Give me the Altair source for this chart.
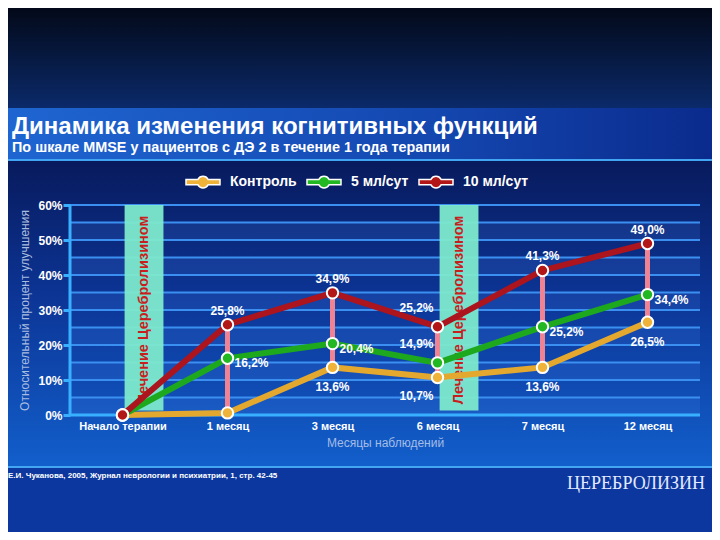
import altair as alt
import pandas as pd

# ---------------- data ----------------
months = ["Начало терапии", "1 месяц", "3 месяц", "6 месяц", "7 месяц", "12 месяц"]
series_names = ["Контроль", "5 мл/сут", "10 мл/сут"]
control = [0.0, 0.6, 13.6, 10.7, 13.6, 26.5]
dose5 = [0.0, 16.2, 20.4, 14.9, 25.2, 34.4]
dose10 = [0.0, 25.8, 34.9, 25.2, 41.3, 49.0]
control_label_pos = ["none", "none", "below", "left_below", "below", "below"]
dose5_label_pos = ["none", "right", "right", "left_above", "right", "right"]
dose10_label_pos = ["none", "above", "above", "left_above", "above", "above"]

band_start = [0.02, 3.02]
band_end = [0.39, 3.39]
band_text = "Лечение Церебролизином"

grid_values = [5, 10, 15, 20, 25, 30, 35, 40, 45, 50, 55, 60]
stripe_lo = [0, 10, 20, 30, 40, 50]
stripe_hi = [5, 15, 25, 35, 45, 55]

title_text = "Динамика изменения когнитивных функций"
subtitle_text = "По шкале MMSE у пациентов с ДЭ 2 в течение 1 года терапии"
x_title = "Месяцы наблюдений"
y_title = "Относительный процент улучшения"
citation_text = "Е.И. Чуканова, 2005, Журнал неврологии и психиатрии, 1, стр. 42-45"
brand_text = "ЦЕРЕБРОЛИЗИН"

# ---------------- styles ----------------
line_colors = ["#e5a82e", "#1ea81e", "#ac141e"]
point_colors = ["#f0b33a", "#22b822", "#b31616"]
FONT = "Liberation Sans"

rows = []
for s, vals, pos in zip(series_names, [control, dose5, dose10],
                        [control_label_pos, dose5_label_pos, dose10_label_pos]):
    for i, (v, p) in enumerate(zip(vals, pos)):
        rows.append(dict(idx=i, month=months[i], series=s, value=v, pos=p,
                         label=f"{v:.1f}".replace(".", ",") + "%"))
df = pd.DataFrame(rows)
conn_df = pd.DataFrame(dict(idx=list(range(1, 6)), lo=control[1:], hi=dose10[1:]))
band_df = pd.DataFrame(dict(start=band_start, end=band_end,
                            mid=[(a + b) / 2 for a, b in zip(band_start, band_end)],
                            text=[band_text] * len(band_start)))
grid_df = pd.DataFrame(dict(g=grid_values))
stripe_df = pd.DataFrame(dict(lo=stripe_lo, hi=stripe_hi))

xscale = alt.Scale(domain=[-0.5, 5.5], nice=False, zero=False)
yscale = alt.Scale(domain=[0, 60], nice=False, zero=False)

label_array = "[" + ",".join("'" + m + "'" for m in months) + "]"
x_axis = alt.Axis(values=list(range(len(months))), labelExpr=label_array + "[datum.value]",
                  ticks=False, grid=False, domain=False, labelFlush=False,
                  labelColor="white", labelFont=FONT, labelFontWeight="bold", labelFontSize=11,
                  labelPadding=5, title=x_title, titleColor="#a3bce6", titleFont=FONT,
                  titleFontWeight="normal", titleFontSize=12, titlePadding=6, zindex=1)
y_axis = alt.Axis(values=[0, 10, 20, 30, 40, 50, 60], labelExpr="datum.value + '%'",
                  grid=False, domain=False, tickColor="#38b0ff", tickWidth=3, tickSize=7,
                  labelColor="white", labelFont=FONT, labelFontWeight="bold", labelFontSize=12,
                  labelPadding=1, title=y_title, titleColor="#a8bce0", titleFont=FONT,
                  titleFontWeight="normal", titleFontSize=12, titlePadding=6, zindex=1)


def X(field):
    return alt.X(field, type="quantitative", scale=xscale, axis=x_axis)


def Y(field):
    return alt.Y(field, type="quantitative", scale=yscale, axis=y_axis)


def XD(v):
    return alt.XDatum(v, type="quantitative", scale=xscale, axis=x_axis)


def YD(v):
    return alt.YDatum(v, type="quantitative", scale=yscale, axis=y_axis)


one = alt.Data(values=[{}])


def grad_v(stops):
    return alt.LinearGradient(gradient="linear", x1=0, x2=0, y1=0, y2=1,
                              stops=[alt.GradientStop(color=c, offset=o) for o, c in stops])


def grad_h(stops):
    return alt.LinearGradient(gradient="linear", x1=0, x2=1, y1=0, y2=0,
                              stops=[alt.GradientStop(color=c, offset=o) for o, c in stops])


bg_top = alt.Chart(one).mark_rect(fill=grad_v([(0, "#020612"), (1, "#0b2a6a")])).encode(
    x=alt.value(-70), x2=alt.value(650), y=alt.value(-205), y2=alt.value(-97))
title_band = alt.Chart(one).mark_rect(
    fill=grad_h([(0, "#1f66d2"), (0.6, "#1447b0"), (1, "#0a2a8c")])).encode(
    x=alt.value(-70), x2=alt.value(650), y=alt.value(-97), y2=alt.value(-46))
panel = alt.Chart(one).mark_rect(
    fill=grad_v([(0, "#081a5c"), (0.45, "#0c3596"), (1, "#125fcc")]),
    stroke="#42a6f2", strokeWidth=2).encode(
    x=alt.value(-69), x2=alt.value(648), y=alt.value(-45), y2=alt.value(262))

stripes = alt.Chart(stripe_df).mark_rect(color="#4a86f0", opacity=0.16).encode(
    x=XD(-0.5), x2=alt.datum(5.5), y=Y("lo"), y2="hi:Q")

gridlines = alt.Chart(grid_df).mark_rule(color="#3b8ff0", strokeWidth=2).encode(
    x=XD(-0.5), x2=alt.datum(5.5), y=Y("g"))

bands = alt.Chart(band_df).mark_rect(color="#7de9cc", opacity=0.95).encode(
    x=X("start"), x2="end:Q", y=YD(1.3), y2=alt.datum(60))
band_labels = alt.Chart(band_df).mark_text(
    angle=270, color="#c81e1e", font=FONT, fontWeight="bold", fontSize=14.5,
    align="center", baseline="middle").encode(x=X("mid"), y=YD(30), text="text:N")

x_domain = alt.Chart(one).mark_rule(color="#38b0ff", strokeWidth=3).encode(
    x=XD(-0.5), x2=alt.datum(5.5), y=YD(0))
y_domain = alt.Chart(one).mark_rule(color="#38b0ff", strokeWidth=3).encode(
    x=XD(-0.5), y=YD(0), y2=alt.datum(60))

connectors = alt.Chart(conn_df).mark_rule(color="#f08393", strokeWidth=5).encode(
    x=X("idx"), y=Y("lo"), y2="hi:Q")

line_layers = []
for s, c in zip(series_names, line_colors):
    line_layers.append(
        alt.Chart(df).transform_filter(alt.datum.series == s)
        .mark_line(strokeWidth=6, color=c)
        .encode(x=X("idx"), y=Y("value"), order="idx:Q"))

# legend symbol: outline of a short bar with a disc in its middle
legend_symbol = ("M-1,-0.16 L-0.3,-0.16 A0.34,0.34 0 0,1 0.3,-0.16 L1,-0.16 L1,0.16 "
                 "L0.3,0.16 A0.34,0.34 0 0,1 -0.3,0.16 L-1,0.16 Z")
series_legend = alt.Legend(
    title=None, orient="none", legendX=115, legendY=-41, direction="horizontal",
    symbolType=legend_symbol, symbolSize=1156, symbolStrokeWidth=1.5,
    symbolStrokeColor="white", symbolOpacity=1,
    labelFont=FONT, labelFontWeight="bold", labelFontSize=14, labelOffset=9,
    labelColor="white", columnPadding=7)

points = alt.Chart(df).mark_circle(size=130, stroke="white", strokeWidth=2, opacity=1).encode(
    x=X("idx"), y=Y("value"),
    fill=alt.Fill("series:N", scale=alt.Scale(domain=series_names, range=point_colors),
                  legend=series_legend))

label_specs = {
    "above": dict(align="center", dx=0, dy=-14),
    "below": dict(align="center", dx=0, dy=20),
    "right": dict(align="left", dx=7, dy=5),
    "left_above": dict(align="right", dx=-4, dy=-19),
    "left_below": dict(align="right", dx=-4, dy=18),
}
label_layers = []
for key, st in label_specs.items():
    label_layers.append(
        alt.Chart(df).transform_filter(alt.datum.pos == key).mark_text(
            color="white", font=FONT, fontWeight="bold", fontSize=12, baseline="middle", **st).encode(
            x=X("idx"), y=Y("value"), text="label:N"))

citation = alt.Chart(alt.Data(values=[{"t": citation_text}])).mark_text(
    color="white", font=FONT, fontWeight="bold", fontSize=8, align="left",
    baseline="middle").encode(x=alt.value(-62), y=alt.value(271), text="t:N")
brand = alt.Chart(alt.Data(values=[{"t": brand_text}])).mark_text(
    color="#e4eaff", font="Liberation Serif", fontSize=18, align="right",
    baseline="alphabetic").encode(x=alt.value(635), y=alt.value(284), text="t:N")

chart = alt.layer(
    bg_top, title_band, panel, stripes, gridlines, bands, band_labels,
    x_domain, y_domain, connectors, *line_layers, points, *label_layers, citation, brand
).properties(
    width=630, height=210,
    autosize=alt.AutoSizeParams(type="none"),
    padding={"left": 62, "top": 197, "right": 12, "bottom": 117},
    title=alt.TitleParams(
        text=title_text, subtitle=subtitle_text, anchor="start", frame="group",
        dx=-58, offset=-154, font=FONT, fontSize=24, fontWeight="bold", color="white",
        subtitleFont=FONT, subtitleFontSize=14.4, subtitleFontWeight="bold",
        subtitleColor="white", subtitlePadding=2),
).configure(background="#0c379f").configure_view(stroke=None)

chart.save("out.html", embed_options={"renderer": "svg", "actions": False})
